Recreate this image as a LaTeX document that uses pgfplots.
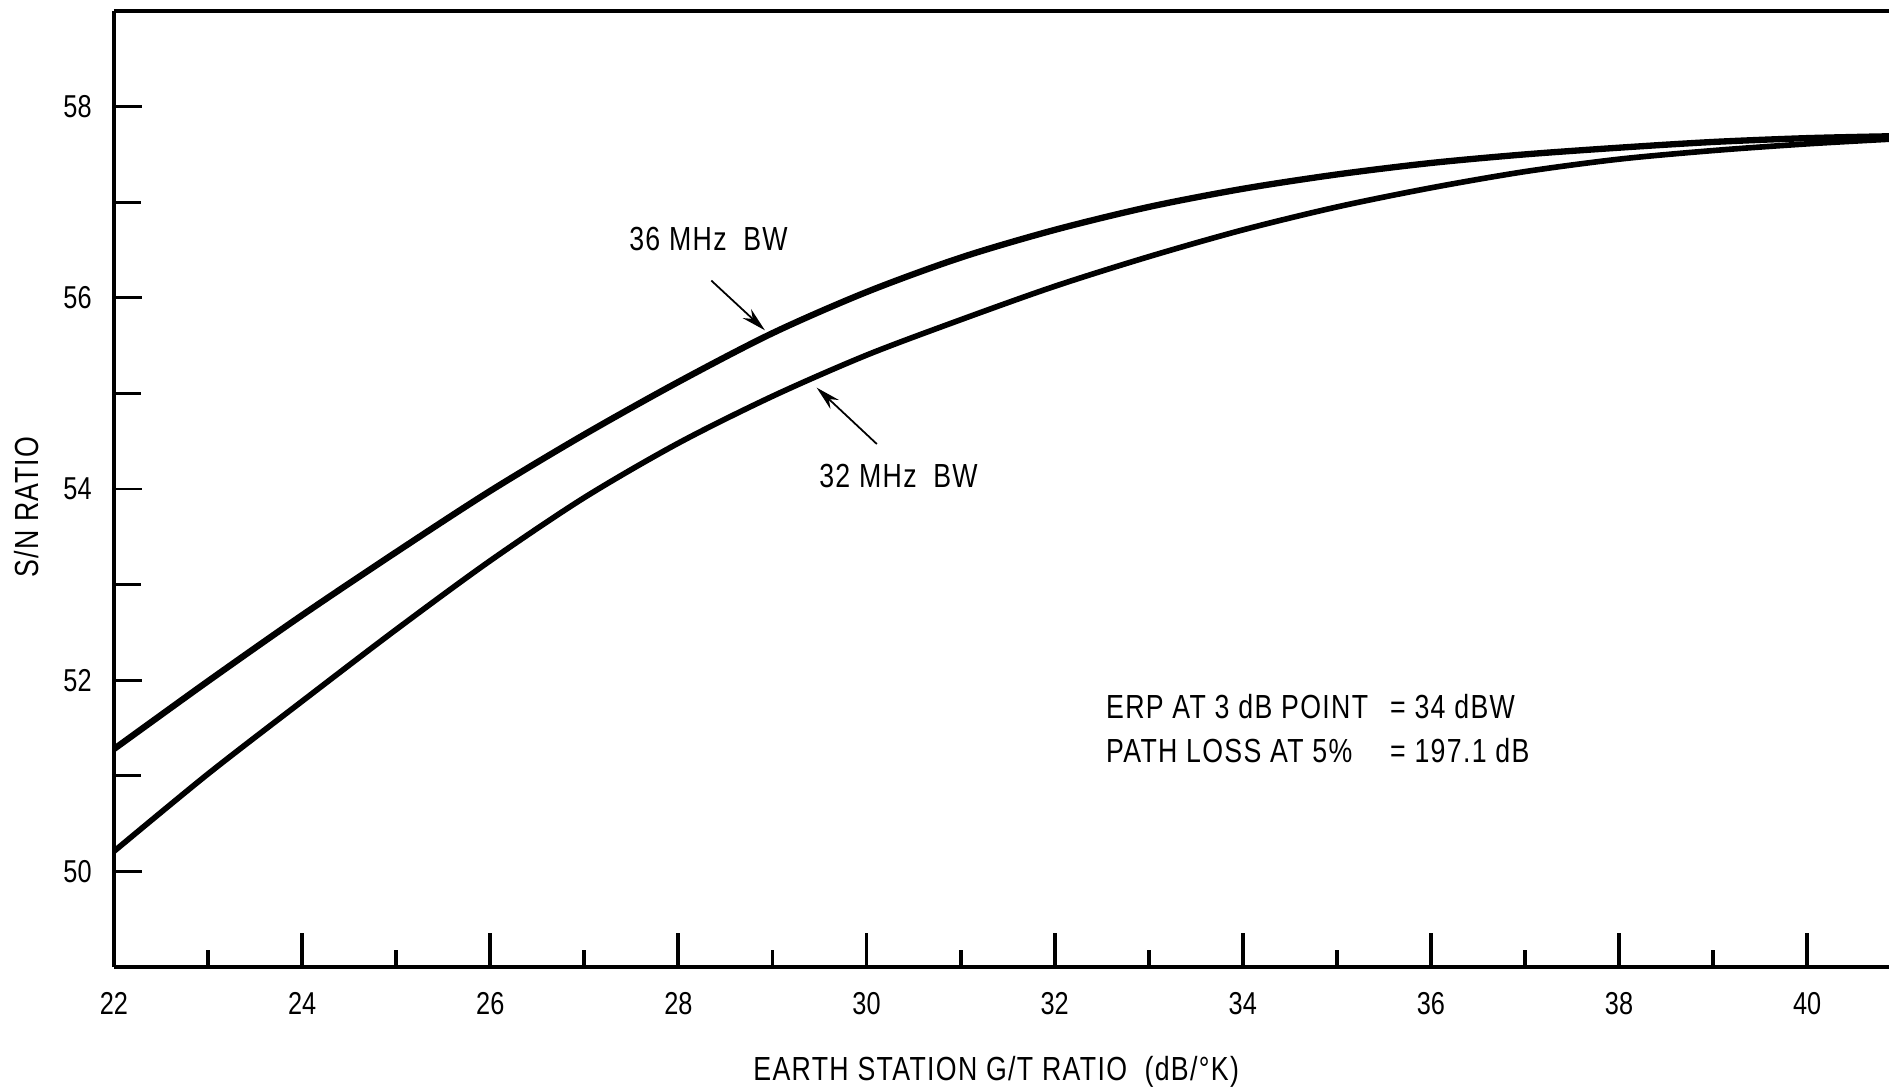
\documentclass[border=0pt]{standalone}
\usepackage{fontspec}
\setmainfont{Liberation Sans}[FakeStretch=0.8, LetterSpace=4]
\newfontfamily\tickfont{Liberation Sans}[FakeStretch=0.8]
\usepackage{pgfplots}
\pgfplotsset{compat=1.18}
\usetikzlibrary{arrows.meta}

% S/N ratio vs earth station G/T
\pgfplotstableread{
gt    sn
22    51.28
23    51.99
24    52.68
25    53.34
26    53.98
27    54.57
28    55.12
29    55.63
30    56.06
31    56.42
32    56.71
33    56.95
34    57.14
35    57.29
36    57.41
37    57.50
38    57.57
39    57.63
40    57.67
40.9  57.69
}\bwthirtysix
\pgfplotstableread{
gt    sn
22    50.21
23    51.02
24    51.78
25    52.53
26    53.25
27    53.91
28    54.48
29    54.97
30    55.40
31    55.77
32    56.12
33    56.43
34    56.71
35    56.95
36    57.15
37    57.32
38    57.45
39    57.54
40    57.61
40.9  57.66
}\bwthirtytwo

\begin{document}
\begin{tikzpicture}
  \path[use as bounding box] (-1.14,-1.25) rectangle (17.75,9.67);
  \begin{axis}[
      at={(0,0)}, anchor=south west,
      scale only axis,
      width=17.75cm, height=9.56cm,
      xmin=22, xmax=40.87,
      ymin=49, ymax=59,
      axis x line=box,
      axis y line=left,
      axis line style={-, line width=0.9pt},
      tick align=inside,
      xtick pos=left, ytick pos=left,
      xtick={22,24,...,40},
      minor xtick={23,25,...,39},
      ytick={50,52,...,58},
      minor ytick={51,53,55,57},
      major tick length=0.34cm,
      minor tick length=0.17cm,
      xtick style={black, line width=1.1pt},
      ytick style={black, line width=0.8pt, /pgfplots/major tick length=0.28cm, /pgfplots/minor tick length=0.27cm},
      /pgf/number format/assume math mode=true,
      ticklabel style={font=\tickfont\fontsize{9}{10}\selectfont},
      xticklabel style={yshift=-0.125cm},
      yticklabel style={xshift=-0.1cm},
      xlabel={EARTH STATION G/T RATIO\ \ (dB/°K)},
      ylabel={S/N RATIO},
      label style={font=\fontsize{9.5}{11}\selectfont},
      xlabel style={at={(axis description cs:0.497,-0.110)}, anchor=center},
      ylabel style={at={(axis description cs:-0.049,0.481)}, anchor=center},
      clip=true,
    ]
    \addplot[black, line width=1.8pt, smooth] table[x=gt, y=sn] {\bwthirtysix};
    \addplot[black, line width=1.6pt, smooth] table[x=gt, y=sn] {\bwthirtytwo};

    \node[font=\fontsize{9.5}{11}\selectfont] at (axis cs:28.32,56.61) {36 MHz\enspace BW};
    \draw[-{Stealth[length=7pt,width=3.5pt]}, line width=0.5pt] (axis cs:28.35,56.18) -- (axis cs:28.92,55.66);
    \node[font=\fontsize{9.5}{11}\selectfont] at (axis cs:30.34,54.14) {32 MHz\enspace BW};
    \draw[-{Stealth[length=7pt,width=3.5pt]}, line width=0.5pt] (axis cs:30.11,54.47) -- (axis cs:29.47,55.06);

    \node[anchor=west, inner sep=0pt, align=left, font=\fontsize{9.5}{12.5}\selectfont]
      at (axis cs:32.54,51.49)
      {\makebox[2.84cm][l]{ERP AT 3 dB POINT}= 34 dBW\\
       \makebox[2.84cm][l]{PATH LOSS AT 5\%}= 197.1 dB};
  \end{axis}
\end{tikzpicture}
\end{document}
